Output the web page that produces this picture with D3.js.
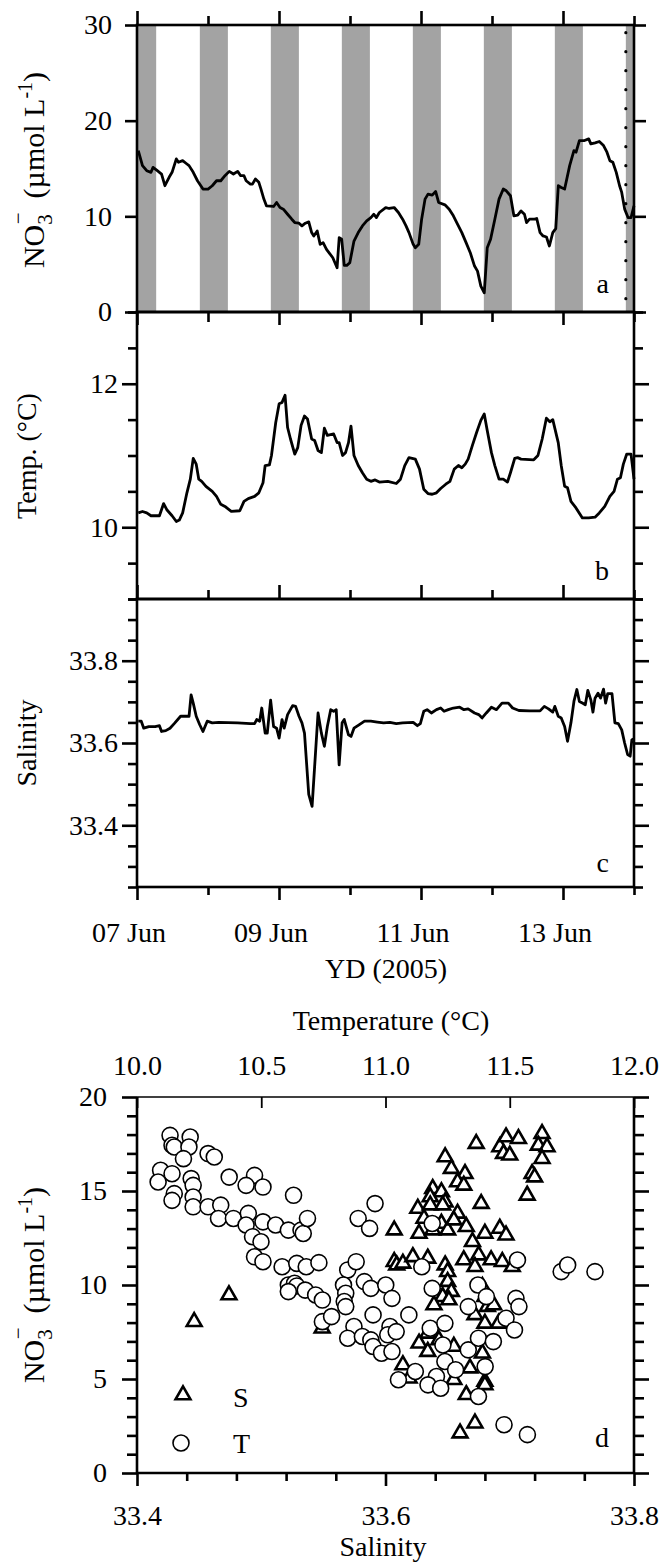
<!DOCTYPE html>
<html>
<head>
<meta charset="utf-8">
<script src="https://cdn.jsdelivr.net/npm/d3@7"></script>
<style>
  body { margin: 0; background: #fff; }
  svg text { font-family: "Liberation Serif", "Times New Roman", serif; font-size: 28px; fill: #000; }
</style>
</head>
<body>
<svg id="fig"></svg>
<script>
// ---- data (days after 07 Jun 2005 00:00) ----
const dayTicks = [0, 2, 4, 6];
const dayLabels = ["07 Jun", "09 Jun", "11 Jun", "13 Jun"];
const dayMinor = [1, 3, 5, 7];

// night periods (grey bands), days
const nightBands = [[-0.115, 0.27], [0.885, 1.28], [1.885, 2.28], [2.885, 3.28],
  [3.885, 4.28], [4.885, 5.28], [5.885, 6.28], [6.885, 7.28]];
const dottedDay = 6.885;

const no3Series = [
  [0.018,16.87],[0.077,15.30],[0.137,14.77],[0.197,14.60],[0.226,15.12],[0.286,14.77],[0.346,14.42],
  [0.393,13.20],[0.465,14.25],[0.494,14.60],[0.554,16.00],[0.584,15.65],[0.643,15.82],[0.703,15.47],
  [0.733,15.30],[0.792,14.60],[0.852,13.72],[0.929,12.85],[1.001,12.85],[1.060,13.20],[1.120,13.72],
  [1.180,13.72],[1.239,14.25],[1.299,14.70],[1.358,14.42],[1.418,14.70],[1.460,14.25],[1.507,14.25],
  [1.537,13.72],[1.597,13.37],[1.626,13.37],[1.668,13.90],[1.716,13.55],[1.746,12.85],[1.787,11.80],
  [1.823,11.10],[1.924,11.03],[1.966,11.45],[2.014,10.92],[2.061,10.75],[2.121,10.22],[2.180,9.70],
  [2.222,9.35],[2.282,9.28],[2.323,9.00],[2.371,9.28],[2.419,9.42],[2.460,8.30],[2.490,7.95],
  [2.538,8.47],[2.580,7.07],[2.621,7.25],[2.669,6.55],[2.758,5.67],[2.788,5.15],[2.818,4.62],
  [2.848,7.77],[2.883,7.60],[2.919,4.87],[2.955,4.87],[2.997,5.15],[3.056,7.42],[3.116,8.30],
  [3.175,9.00],[3.235,9.52],[3.294,9.87],[3.336,10.22],[3.372,9.87],[3.414,10.40],[3.503,10.92],
  [3.551,10.82],[3.622,10.92],[3.682,10.40],[3.741,9.70],[3.789,9.00],[3.831,8.30],[3.890,7.07],
  [3.920,6.72],[3.968,7.07],[4.009,9.70],[4.057,11.80],[4.099,12.32],[4.158,12.22],[4.206,12.60],
  [4.248,11.45],[4.337,11.20],[4.397,10.75],[4.456,10.05],[4.516,9.17],[4.575,8.30],[4.635,7.25],
  [4.694,6.20],[4.754,4.80],[4.796,4.27],[4.843,2.70],[4.891,2.00],[4.933,6.72],[4.980,7.60],
  [5.040,9.70],[5.099,11.80],[5.159,12.85],[5.201,12.67],[5.260,12.15],[5.308,10.05],[5.362,10.12],
  [5.409,10.57],[5.457,10.22],[5.487,9.35],[5.528,9.70],[5.600,9.70],[5.630,9.77],[5.677,8.30],
  [5.719,7.95],[5.767,7.84],[5.808,6.90],[5.856,8.30],[5.898,8.72],[5.934,13.20],[5.975,13.02],
  [6.023,12.85],[6.094,15.30],[6.154,16.87],[6.184,16.70],[6.231,17.92],[6.303,17.92],[6.362,18.10],
  [6.392,17.57],[6.452,17.68],[6.511,17.82],[6.571,17.40],[6.619,16.70],[6.660,15.82],[6.702,15.65],
  [6.750,14.60],[6.797,13.20],[6.827,12.50],[6.869,10.75],[6.916,9.87],[6.958,9.87],[7.000,11.10]
];

const tempSeries = [
  [0.018,10.20],[0.077,10.22],[0.137,10.20],[0.197,10.16],[0.316,10.16],[0.375,10.33],[0.423,10.24],
  [0.494,10.16],[0.554,10.08],[0.596,10.10],[0.643,10.20],[0.703,10.48],[0.751,10.67],[0.792,10.96],
  [0.834,10.88],[0.870,10.67],[0.911,10.64],[0.971,10.57],[1.060,10.50],[1.120,10.43],[1.180,10.32],
  [1.239,10.29],[1.328,10.22],[1.448,10.23],[1.507,10.36],[1.567,10.40],[1.656,10.43],[1.716,10.48],
  [1.775,10.62],[1.805,10.86],[1.865,10.87],[1.894,11.00],[1.954,11.46],[2.002,11.72],[2.043,11.74],
  [2.085,11.84],[2.121,11.39],[2.162,11.23],[2.222,11.02],[2.264,11.11],[2.311,11.42],[2.359,11.55],
  [2.401,11.51],[2.460,11.23],[2.502,11.21],[2.550,11.07],[2.597,11.04],[2.639,11.38],[2.681,11.28],
  [2.770,11.30],[2.818,11.18],[2.847,11.18],[2.895,11.00],[2.937,11.04],[2.979,11.18],[3.014,11.41],
  [3.056,11.00],[3.116,10.86],[3.175,10.76],[3.235,10.67],[3.294,10.64],[3.354,10.66],[3.413,10.63],
  [3.532,10.64],[3.652,10.61],[3.711,10.67],[3.771,10.86],[3.830,10.97],[3.920,10.95],[3.979,10.81],
  [4.039,10.53],[4.098,10.47],[4.158,10.46],[4.218,10.48],[4.277,10.54],[4.349,10.60],[4.408,10.64],
  [4.468,10.81],[4.527,10.86],[4.575,10.83],[4.623,10.88],[4.664,10.95],[4.724,11.14],[4.783,11.32],
  [4.843,11.49],[4.891,11.58],[4.933,11.35],[4.992,11.04],[5.040,10.86],[5.099,10.67],[5.159,10.67],
  [5.218,10.63],[5.260,10.76],[5.320,10.96],[5.361,10.97],[5.409,10.95],[5.588,10.94],[5.647,11.00],
  [5.707,11.23],[5.766,11.52],[5.814,11.47],[5.856,11.50],[5.933,11.18],[5.975,10.86],[6.023,10.57],
  [6.064,10.55],[6.112,10.36],[6.183,10.27],[6.273,10.13],[6.362,10.13],[6.451,10.14],[6.511,10.20],
  [6.588,10.29],[6.660,10.43],[6.719,10.50],[6.767,10.67],[6.809,10.69],[6.850,10.88],[6.898,11.02],
  [6.958,11.02],[7.000,10.67]
];

const salSeries = [
  [0.018,33.653],[0.060,33.653],[0.095,33.636],[0.167,33.640],[0.256,33.640],[0.316,33.642],[0.346,33.628],
  [0.405,33.630],[0.465,33.636],[0.524,33.647],[0.614,33.665],[0.733,33.665],[0.762,33.717],[0.792,33.697],
  [0.834,33.665],[0.882,33.645],[0.929,33.628],[0.989,33.653],[1.060,33.649],[1.150,33.650],[1.418,33.649],
  [1.596,33.647],[1.656,33.647],[1.686,33.657],[1.728,33.653],[1.757,33.685],[1.805,33.624],[1.835,33.624],
  [1.882,33.704],[1.924,33.640],[1.966,33.636],[2.002,33.612],[2.043,33.657],[2.073,33.636],[2.121,33.669],
  [2.192,33.691],[2.234,33.689],[2.282,33.665],[2.323,33.649],[2.359,33.624],[2.419,33.475],[2.466,33.446],
  [2.502,33.543],[2.550,33.673],[2.597,33.624],[2.639,33.592],[2.681,33.640],[2.728,33.681],[2.770,33.677],
  [2.806,33.681],[2.847,33.547],[2.889,33.649],[2.919,33.657],[2.979,33.620],[3.014,33.616],[3.056,33.636],
  [3.116,33.643],[3.205,33.653],[3.294,33.653],[3.384,33.651],[3.473,33.649],[3.562,33.650],[3.652,33.647],
  [3.741,33.649],[3.890,33.650],[3.949,33.642],[3.991,33.647],[4.039,33.677],[4.086,33.681],[4.146,33.673],
  [4.218,33.681],[4.277,33.685],[4.325,33.677],[4.384,33.681],[4.456,33.685],[4.545,33.687],[4.605,33.681],
  [4.664,33.683],[4.754,33.673],[4.813,33.669],[4.861,33.661],[4.920,33.673],[4.992,33.687],[5.063,33.681],
  [5.141,33.697],[5.230,33.697],[5.290,33.685],[5.379,33.679],[5.528,33.678],[5.677,33.678],[5.737,33.689],
  [5.796,33.683],[5.856,33.675],[5.885,33.689],[5.933,33.665],[5.975,33.661],[6.023,33.640],[6.064,33.604],
  [6.112,33.649],[6.154,33.701],[6.195,33.730],[6.231,33.701],[6.273,33.697],[6.314,33.693],[6.350,33.728],
  [6.392,33.705],[6.422,33.675],[6.451,33.709],[6.493,33.721],[6.529,33.709],[6.571,33.731],[6.600,33.697],
  [6.630,33.720],[6.690,33.720],[6.731,33.649],[6.779,33.647],[6.827,33.632],[6.868,33.600],[6.910,33.572],
  [6.946,33.568],[6.970,33.608],[7.000,33.610]
];

// panel d: [salinity, NO3] (triangles) and [temperature, NO3] (circles)
const scatterSal = [
  [33.648,16.81],[33.653,16.19],[33.664,15.92],[33.658,15.48],[33.663,15.30],[33.638,15.12],[33.645,14.95],
  [33.636,14.68],[33.648,14.41],[33.673,17.52],[33.692,17.34],[33.697,17.87],[33.707,17.78],[33.695,16.99],
  [33.700,16.90],[33.726,18.05],[33.723,17.43],[33.730,17.34],[33.726,16.72],[33.718,15.92],[33.720,15.74],
  [33.714,14.77],[33.677,14.33],[33.626,14.07],[33.636,14.25],[33.646,14.25],[33.631,13.54],[33.627,12.74],
  [33.638,12.92],[33.645,13.27],[33.650,12.92],[33.658,13.81],[33.665,13.10],[33.655,13.45],[33.607,12.92],
  [33.670,12.30],[33.680,12.74],[33.692,13.01],[33.697,12.65],[33.607,11.24],[33.609,11.06],[33.614,11.15],
  [33.622,11.50],[33.634,11.42],[33.648,11.06],[33.650,10.71],[33.663,11.33],[33.675,11.59],[33.685,11.33],
  [33.694,11.24],[33.702,10.97],[33.672,10.97],[33.650,10.18],[33.653,9.65],[33.646,9.38],[33.651,9.20],
  [33.678,9.91],[33.680,9.38],[33.639,8.94],[33.682,8.85],[33.687,8.94],[33.672,8.41],[33.680,7.96],
  [33.691,7.96],[33.634,7.43],[33.627,6.90],[33.634,6.46],[33.643,7.08],[33.655,6.73],[33.678,6.37],
  [33.614,5.75],[33.619,5.04],[33.655,4.96],[33.668,5.58],[33.680,4.87],[33.680,4.69],[33.665,4.16],
  [33.660,2.12],[33.672,2.65],[33.549,7.70],[33.474,9.47],[33.446,8.05]
];
const scatterTemp = [
  [10.133,17.96],[10.141,17.43],[10.150,17.34],[10.214,17.87],[10.209,17.34],[10.187,16.72],[10.286,16.99],
  [10.311,16.81],[10.095,16.10],[10.141,15.92],[10.085,15.48],[10.150,14.86],[10.218,15.66],[10.226,15.30],
  [10.226,14.68],[10.371,15.74],[10.473,15.83],[10.439,15.30],[10.507,15.21],[10.630,14.77],[10.958,14.33],
  [10.141,14.50],[10.226,14.16],[10.286,14.16],[10.337,14.25],[10.328,13.54],[10.388,13.54],[10.448,13.81],
  [10.439,13.19],[10.507,13.36],[10.558,13.19],[10.609,12.92],[10.660,12.92],[10.669,12.74],[10.686,13.54],
  [10.465,12.57],[10.499,12.30],[10.473,11.50],[10.507,11.24],[10.584,10.97],[10.643,11.15],[10.681,10.97],
  [10.732,11.19],[10.609,10.00],[10.634,10.09],[10.643,9.95],[10.609,9.65],[10.677,9.73],[10.719,9.47],
  [10.746,9.20],[10.746,8.05],[10.783,8.32],[10.848,10.80],[10.831,10.00],[10.840,9.56],[10.834,9.12],
  [10.840,8.85],[10.882,11.24],[10.890,13.54],[10.936,13.01],[10.873,7.79],[10.848,7.17],[10.907,7.26],
  [10.915,10.18],[10.941,9.82],[10.950,8.41],[10.941,7.08],[10.950,6.73],[10.984,6.37],[11.001,10.00],
  [11.026,9.29],[11.018,7.79],[11.009,7.35],[11.043,7.52],[11.026,6.46],[11.094,8.41],[11.052,4.96],
  [11.120,5.40],[11.146,10.97],[11.188,9.82],[11.180,7.70],[11.239,7.96],[11.231,6.81],[11.239,5.93],
  [11.205,5.13],[11.171,4.69],[11.222,4.51],[11.282,5.49],[11.188,13.27],[11.333,8.85],[11.333,6.55],
  [11.372,10.00],[11.406,9.38],[11.374,7.17],[11.401,5.66],[11.374,4.07],[11.434,6.99],[11.485,8.23],
  [11.519,7.61],[11.525,9.29],[11.537,8.85],[11.531,11.33],[11.477,2.57],[11.571,2.04],[11.707,10.71],
  [11.733,11.06],[11.843,10.71]
];

// ---- layout ----
const left = 137, right = 634;
const svg = d3.select("#fig").attr("width", 663).attr("height", 1562);
svg.append("rect").attr("width", 663).attr("height", 1562).attr("fill", "#fff");

const x = d3.scaleLinear().domain([0, 7]).range([left, right]);

const yA = d3.scaleLinear().domain([0, 30]).range([312, 25]);
const yB = d3.scaleLinear().domain([9, 13]).range([599, 312]);
const yC = d3.scaleLinear().domain([33.25, 33.95]).range([887, 599]);

const AXIS_W = 2.6;

function styleAxis(g) {
  g.select(".domain").remove();
  g.selectAll("line").attr("stroke-width", AXIS_W);
  return g;
}

// left + right y ticks for a panel
function yTicks(y, major, minor, majLen, minLen, pad, fmt) {
  if (minor.length) {
    styleAxis(svg.append("g").attr("transform", `translate(${left},0)`)
      .call(d3.axisLeft(y).tickValues(minor).tickSize(minLen).tickFormat("")));
    styleAxis(svg.append("g").attr("transform", `translate(${right},0)`)
      .call(d3.axisRight(y).tickValues(minor).tickSize(minLen).tickFormat("")));
  }
  styleAxis(svg.append("g").attr("transform", `translate(${left},0)`)
    .call(d3.axisLeft(y).tickValues(major).tickSize(majLen).tickPadding(pad).tickFormat(fmt)));
  styleAxis(svg.append("g").attr("transform", `translate(${right},0)`)
    .call(d3.axisRight(y).tickValues(major).tickSize(majLen).tickFormat("")));
}

// x ticks at a horizontal line; dir -1 = up, +1 = down
function xTicks(yPos, dir, majLen, minLen) {
  const ax = dir < 0 ? d3.axisTop : d3.axisBottom;
  styleAxis(svg.append("g").attr("transform", `translate(0,${yPos})`)
    .call(ax(x).tickValues(dayTicks).tickSize(majLen).tickFormat("")));
  styleAxis(svg.append("g").attr("transform", `translate(0,${yPos})`)
    .call(ax(x).tickValues(dayMinor).tickSize(minLen).tickFormat("")));
}

// ---- panel a: night bands ----
svg.append("g").selectAll("rect").data(nightBands).join("rect")
  .attr("x", d => x(Math.max(d[0], 0)))
  .attr("width", d => x(Math.min(d[1], 7)) - x(Math.max(d[0], 0)))
  .attr("y", yA(30)).attr("height", yA(0) - yA(30))
  .attr("fill", "#a3a3a3");

svg.append("line")
  .attr("x1", x(dottedDay)).attr("x2", x(dottedDay))
  .attr("y1", yA(29.2)).attr("y2", yA(0))
  .attr("stroke", "#000").attr("stroke-width", 3.2)
  .attr("stroke-linecap", "round").attr("stroke-dasharray", "0,19");

// ---- series lines ----
function drawLine(data, y) {
  svg.append("path").datum(data)
    .attr("fill", "none").attr("stroke", "#000").attr("stroke-width", 2.8)
    .attr("stroke-linejoin", "round")
    .attr("d", d3.line().x(d => x(d[0])).y(d => y(d[1])));
}
drawLine(no3Series, yA);
drawLine(tempSeries, yB);
drawLine(salSeries, yC);

// ---- ticks for a, b, c ----
yTicks(yA, [0, 10, 20, 30], [], 12, 0, 13, d3.format("d"));
yTicks(yB, [10, 12], [9, 9.5, 10.5, 11, 11.5, 12.5, 13], 15, 9, 4, d3.format("d"));
yTicks(yC, [33.4, 33.6, 33.8], d3.range(33.25, 33.96, 0.05).filter(v => Math.abs(v - 33.4) > 0.01 && Math.abs(v - 33.6) > 0.01 && Math.abs(v - 33.8) > 0.01), 15, 9, 4, d3.format(".1f"));

xTicks(yA(30), -1, 14, 9);
xTicks(yA(0), 1, 13, 10);
xTicks(yC(33.95), -1, 14, 9);
xTicks(yC(33.25), 1, 13, 8);

// bottom date labels
svg.append("g").selectAll("text").data(dayTicks).join("text")
  .attr("x", d => x(d) - 8).attr("y", 942)
  .attr("text-anchor", "middle")
  .text((d, i) => dayLabels[i]);

// frames
[[yA, 30, 0], [yB, 13, 9], [yC, 33.95, 33.25]].forEach(([y, t, b]) => {
  svg.append("rect").attr("x", left).attr("y", y(t))
    .attr("width", right - left).attr("height", y(b) - y(t))
    .attr("fill", "none").attr("stroke", "#000").attr("stroke-width", AXIS_W);
});

// axis titles a-c
function no3Label(cx, cy) {
  const t = svg.append("text").attr("transform", `translate(${cx},${cy}) rotate(-90)`)
    .attr("text-anchor", "middle").style("font-size", "30px");
  t.append("tspan").text("NO");
  t.append("tspan").style("font-size", "21px").attr("dy", 8).text("3");
  t.append("tspan").style("font-size", "21px").attr("dx", -10).attr("dy", -27).text("\u2212");
  t.append("tspan").attr("dy", 19).attr("dx", 14).text("(\u00b5mol L");
  t.append("tspan").style("font-size", "20px").attr("dy", -12).text("-1");
  t.append("tspan").attr("dy", 12).text(")");
}
no3Label(44, 170);

svg.append("text").attr("transform", "translate(36,456) rotate(-90)")
  .attr("text-anchor", "middle").text("Temp. (\u00b0C)");
svg.append("text").attr("transform", "translate(36,743) rotate(-90)")
  .attr("text-anchor", "middle").text("Salinity");
svg.append("text").attr("x", 386).attr("y", 978).attr("text-anchor", "middle").text("YD (2005)");

// panel letters
[["a", 293], ["b", 580], ["c", 872]].forEach(([s, yy]) => {
  svg.append("text").attr("x", 609).attr("y", yy).attr("text-anchor", "end").text(s);
});

// ---- panel d ----
const dTop = 1097, dBot = 1473;
const xSal = d3.scaleLinear().domain([33.4, 33.8]).range([left, right]);
const xTemp = d3.scaleLinear().domain([10, 12]).range([left, right]);
const yD = d3.scaleLinear().domain([0, 20]).range([dBot, dTop]);

const tri = d3.symbol().type(d3.symbolTriangle).size(95);
svg.append("g").selectAll("path").data(scatterSal).join("path")
  .attr("transform", d => `translate(${xSal(d[0])},${yD(d[1])})`)
  .attr("d", tri).attr("fill", "#fff").attr("stroke", "#000").attr("stroke-width", 2.6);

svg.append("g").selectAll("circle").data(scatterTemp).join("circle")
  .attr("cx", d => xTemp(d[0])).attr("cy", d => yD(d[1])).attr("r", 8)
  .attr("fill", "#fff").attr("stroke", "#000").attr("stroke-width", 1.6);

// y ticks d
const dMinor = d3.range(1, 20).filter(v => v % 5 !== 0);
yTicks(yD, [0, 5, 10, 15, 20], dMinor, 15, 10, 15, d3.format("d"));

// bottom salinity ticks
styleAxis(svg.append("g").attr("transform", `translate(0,${dBot})`)
  .call(d3.axisBottom(xSal).tickValues([33.4, 33.6, 33.8]).tickSize(13).tickPadding(19).tickFormat(d3.format(".1f"))));
styleAxis(svg.append("g").attr("transform", `translate(0,${dBot})`)
  .call(d3.axisBottom(xSal).tickValues([33.44, 33.48, 33.52, 33.56, 33.64, 33.68, 33.72, 33.76]).tickSize(8).tickFormat("")));

// top temperature ticks (inward)
const topAx = svg.append("g").attr("transform", `translate(0,${dTop})`)
  .call(d3.axisTop(xTemp).tickValues([10, 10.5, 11, 11.5, 12]).tickSize(-11).tickPadding(22).tickFormat(d3.format(".1f")));
topAx.select(".domain").remove();
topAx.selectAll("line").attr("stroke-width", 1.8);

// frame d: thin top, thick others
svg.append("line").attr("x1", left).attr("x2", right).attr("y1", dTop).attr("y2", dTop)
  .attr("stroke", "#000").attr("stroke-width", 1.6);
svg.append("path").attr("d", d3.line()([[left, dTop], [left, dBot], [right, dBot], [right, dTop]]))
  .attr("fill", "none").attr("stroke", "#000").attr("stroke-width", AXIS_W);

no3Label(44, 1285);
svg.append("text").attr("x", 391).attr("y", 1030).attr("text-anchor", "middle").text("Temperature (\u00b0C)");
svg.append("text").attr("x", 383).attr("y", 1556).attr("text-anchor", "middle").text("Salinity");
svg.append("text").attr("x", 609).attr("y", 1447).attr("text-anchor", "end").text("d");

// legend
svg.append("path").attr("transform", `translate(183,1395)`).attr("d", tri)
  .attr("fill", "#fff").attr("stroke", "#000").attr("stroke-width", 2.6);
svg.append("text").attr("x", 233).attr("y", 1407).text("S");
svg.append("circle").attr("cx", 181).attr("cy", 1443).attr("r", 8)
  .attr("fill", "#fff").attr("stroke", "#000").attr("stroke-width", 1.6);
svg.append("text").attr("x", 233).attr("y", 1453).text("T");
</script>
</body>
</html>
